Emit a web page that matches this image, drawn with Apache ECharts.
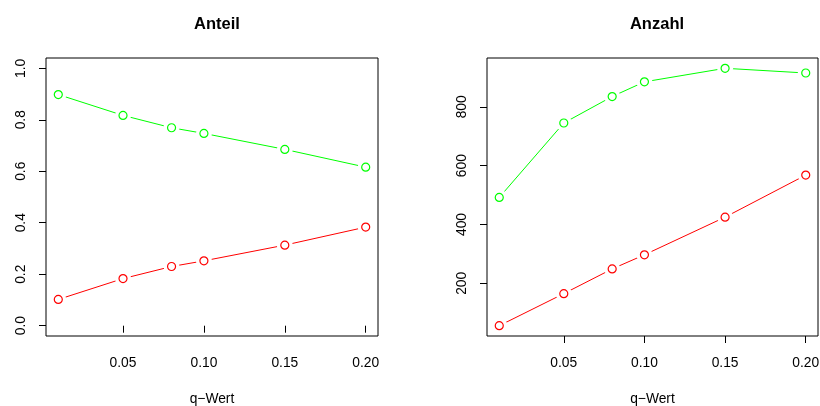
<!DOCTYPE html>
<html>
<head>
<meta charset="utf-8">
<script src="https://cdn.jsdelivr.net/npm/echarts@6/dist/echarts.min.js"></script>
<style>
  html, body { margin: 0; padding: 0; background: #fff; }
  #main { width: 820px; height: 406px; }
</style>
</head>
<body>
<div id="main"></div>
<script>
// q-values on the x axis
var qWerte = [0.01, 0.05, 0.08, 0.10, 0.15, 0.20];

// left panel: share
var anteilGruen = [0.898, 0.817, 0.769, 0.747, 0.685, 0.616];
var anteilRot = [0.102, 0.183, 0.230, 0.252, 0.313, 0.383];

// right panel: count
var anzahlGruen = [492, 745, 835, 885, 931, 915];
var anzahlRot = [56, 165, 249, 297, 425, 568];

var xTicks = [0.05, 0.10, 0.15, 0.20];
var yTicksAnteil = [0.0, 0.2, 0.4, 0.6, 0.8, 1.0];
var yTicksAnzahl = [200, 400, 600, 800];

var titles = ['Anteil', 'Anzahl'];
var xName = 'q\u2212Wert';

var FONT = 'Liberation Sans, Arial, Helvetica, sans-serif';
var GREEN = '#00ff00';
var RED = '#ff0000';

// R style axis range: data range widened by 4% on each side
function rRange(arrs) {
    var all = [].concat.apply([], arrs);
    var lo = Math.min.apply(null, all), hi = Math.max.apply(null, all);
    var d = (hi - lo) * 0.04;
    return [lo - d, hi + d];
}

var xr = rRange([qWerte]);
var yrAnteil = [-0.04, 1.04];
var yrAnzahl = rRange([anzahlGruen, anzahlRot]);

function pairs(ys) {
    return qWerte.map(function (q, i) { return [q, ys[i]]; });
}

function xAxisFor(idx) {
    return {
        type: 'value', gridIndex: idx, min: xr[0], max: xr[1],
        axisLine: { show: false },
        splitLine: { show: false },
        axisTick: { show: true, inside: false, length: 7, customValues: xTicks,
                    lineStyle: { color: '#000', width: 1 } },
        axisLabel: { customValues: xTicks, margin: 20, color: '#000',
                     fontFamily: FONT, fontSize: 13.8,
                     formatter: function (v) { return v.toFixed(2); } },
        name: xName, nameLocation: 'middle', nameGap: 56,
        nameTextStyle: { color: '#000', fontFamily: FONT, fontSize: 13.8 }
    };
}

function yAxisFor(idx, range, ticks, digits) {
    return {
        type: 'value', gridIndex: idx, min: range[0], max: range[1],
        axisLine: { show: false },
        splitLine: { show: false },
        axisTick: { show: true, inside: false, length: 7, customValues: ticks,
                    lineStyle: { color: '#000', width: 1 } },
        axisLabel: { customValues: ticks, rotate: 90, margin: 18, color: '#000',
                     fontFamily: FONT, fontSize: 13.8,
                     formatter: function (v) { return v.toFixed(digits); } }
    };
}

// line, then white disk (R type="b" gap), then hollow circle
function seriesFor(idx, ys, color) {
    var d = pairs(ys);
    return [
        { type: 'line', xAxisIndex: idx, yAxisIndex: idx, data: d, showSymbol: false,
          z: 2, lineStyle: { color: color, width: 1 }, silent: true, animation: false },
        { type: 'scatter', xAxisIndex: idx, yAxisIndex: idx, data: d, symbol: 'circle',
          z: 5, symbolSize: 16, itemStyle: { color: '#ffffff', opacity: 1 }, silent: true, animation: false },
        { type: 'scatter', xAxisIndex: idx, yAxisIndex: idx, data: d, symbol: 'circle',
          z: 6, symbolSize: 8, itemStyle: { color: '#ffffff', opacity: 1, borderColor: color, borderWidth: 1.2 },
          silent: true, animation: false }
    ];
}

var chart = echarts.init(document.getElementById('main'));

var gridBase = { top: 58, height: 278, show: true, borderColor: '#000', borderWidth: 1,
                 backgroundColor: 'transparent', containLabel: false, outerBoundsMode: 'none' };

var option = {
    backgroundColor: '#fff',
    animation: false,
    title: [
        { text: titles[0], left: 212, top: 11, textAlign: 'center',
          textStyle: { fontFamily: FONT, fontSize: 16.5, fontWeight: 'bold', color: '#000' } },
        { text: titles[1], left: 652, top: 11, textAlign: 'center',
          textStyle: { fontFamily: FONT, fontSize: 16.5, fontWeight: 'bold', color: '#000' } }
    ],
    grid: [
        Object.assign({ left: 46, width: 332 }, gridBase),
        Object.assign({ left: 487, width: 331 }, gridBase)
    ],
    xAxis: [xAxisFor(0), xAxisFor(1)],
    yAxis: [
        yAxisFor(0, yrAnteil, yTicksAnteil, 1),
        yAxisFor(1, yrAnzahl, yTicksAnzahl, 0)
    ],
    series: [].concat(
        seriesFor(0, anteilGruen, GREEN),
        seriesFor(0, anteilRot, RED),
        seriesFor(1, anzahlGruen, GREEN),
        seriesFor(1, anzahlRot, RED)
    )
};

chart.setOption(option);
</script>
</body>
</html>
